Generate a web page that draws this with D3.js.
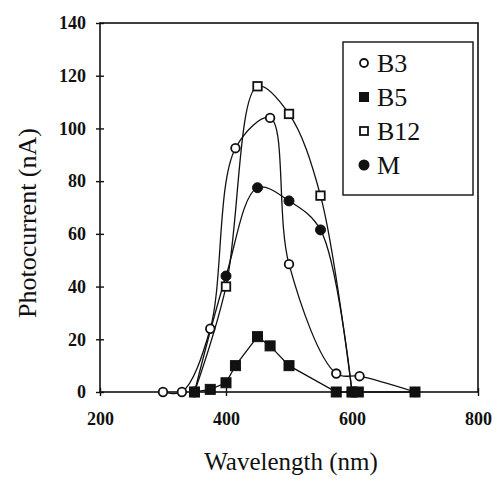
<!DOCTYPE html>
<html><head><meta charset="utf-8">
<script src="https://cdn.jsdelivr.net/npm/d3@7"></script>
<style>body{margin:0;background:#fff}svg{display:block}text{font-family:"Liberation Serif","Times New Roman",serif;fill:#111}</style>
</head><body>
<svg id="c" width="493" height="479"></svg>
<script>
const xTicks = [200, 400, 600, 800];
const yTicks = [0, 20, 40, 60, 80, 100, 120, 140];
const seriesNames = ["B3", "B5", "B12", "M"];
const b3 = [[300,0],[330,0],[375,24],[415,92.5],[470,104],[500,48.5],[575,7],[612,6],[700,0]];
const b5 = [[350,0],[375,1],[400,3.5],[415,10],[450,21],[470,17.5],[500,10],[575,0],[600,0],[610,0],[700,0]];
const b12 = [[350,0],[400,40],[450,116],[500,105.5],[550,74.5],[600,0]];
const m = [[350,0],[400,44],[450,77.5],[500,72.5],[550,61.5],[600,0]];

const svg = d3.select("#c");
const L=100, R=478, T=23, B=392;
const x = d3.scaleLinear().domain([200,800]).range([L,R]);
const y = d3.scaleLinear().domain([0,140]).range([B,T]);
const ink="#111";

// frame
svg.append("rect").attr("x",L).attr("y",T).attr("width",R-L).attr("height",B-T)
  .attr("fill","none").attr("stroke",ink).attr("stroke-width",1.6);

// axes
const ya = d3.axisLeft(y).tickValues(yTicks).tickSize(4).tickPadding(6);
const gy = svg.append("g").attr("transform",`translate(${L},0)`).call(ya);
gy.select(".domain").remove();
gy.selectAll(".tick line").attr("x1",4).attr("x2",-4).attr("stroke",ink).attr("stroke-width",1.4);
gy.selectAll("text").attr("font-size",18).attr("font-weight","bold").attr("fill",ink).attr("font-family","Liberation Serif").attr("x",-14);

const xa = d3.axisBottom(x).tickValues(xTicks).tickSize(4).tickPadding(16);
const gx = svg.append("g").attr("transform",`translate(0,${B})`).call(xa);
gx.select(".domain").remove();
gx.selectAll(".tick line").attr("y1",-4).attr("y2",4).attr("stroke",ink).attr("stroke-width",1.4);
gx.selectAll("text").attr("font-size",18).attr("font-weight","bold").attr("fill",ink).attr("font-family","Liberation Serif");

// titles
svg.append("text").attr("x",291).attr("y",470).attr("text-anchor","middle")
  .attr("font-size",25).text("Wavelength (nm)");
svg.append("text").attr("transform","translate(36,223) rotate(-90)").attr("text-anchor","middle")
  .attr("font-size",26).text("Photocurrent (nA)");

// lines
const smooth = d3.line().x(d=>x(d[0])).y(d=>y(d[1])).curve(d3.curveCatmullRom.alpha(0.5));
const straight = d3.line().x(d=>x(d[0])).y(d=>y(d[1]));
const lg = svg.append("g").attr("fill","none").attr("stroke",ink).attr("stroke-width",1.3);
lg.append("path").attr("d",smooth(b3));
lg.append("path").attr("d",straight(b5));
lg.append("path").attr("d",smooth(b12));
lg.append("path").attr("d",smooth(m));

function circles(data, filled){
  svg.append("g").selectAll("circle").data(data).join("circle")
    .attr("cx",d=>x(d[0])).attr("cy",d=>y(d[1])).attr("r",filled?5:4.3)
    .attr("fill",filled?ink:"#fff").attr("stroke",ink).attr("stroke-width",filled?1:1.8);
}
function squares(data, filled){
  const s = filled?10:8.5;
  svg.append("g").selectAll("rect").data(data).join("rect")
    .attr("x",d=>x(d[0])-s/2).attr("y",d=>y(d[1])-s/2).attr("width",s).attr("height",s)
    .attr("fill",filled?ink:"#fff").attr("stroke",ink).attr("stroke-width",filled?1:1.8);
}
circles(b3,false);
squares(b12,false);
circles(m,true);
squares(b5,true);

// legend
const lgx=343, lgy=42;
svg.append("rect").attr("x",lgx).attr("y",lgy).attr("width",130).attr("height",153)
  .attr("fill","#fff").attr("stroke",ink).attr("stroke-width",1.4);
const ly = [63, 97, 131, 165];
const leg = svg.append("g");
seriesNames.forEach((n,i)=>{
  const cy = ly[i], cx = 364;
  if(i===0) leg.append("circle").attr("cx",cx).attr("cy",cy).attr("r",4).attr("fill","#fff").attr("stroke",ink).attr("stroke-width",1.8);
  if(i===1) leg.append("rect").attr("x",cx-5).attr("y",cy-5).attr("width",10).attr("height",10).attr("fill",ink);
  if(i===2) leg.append("rect").attr("x",cx-4).attr("y",cy-4).attr("width",8).attr("height",8).attr("fill","#fff").attr("stroke",ink).attr("stroke-width",1.8);
  if(i===3) leg.append("circle").attr("cx",cx).attr("cy",cy).attr("r",5.5).attr("fill",ink);
  leg.append("text").attr("x",377).attr("y",cy+9).attr("font-size",26).text(n);
});
</script>
</body></html>
